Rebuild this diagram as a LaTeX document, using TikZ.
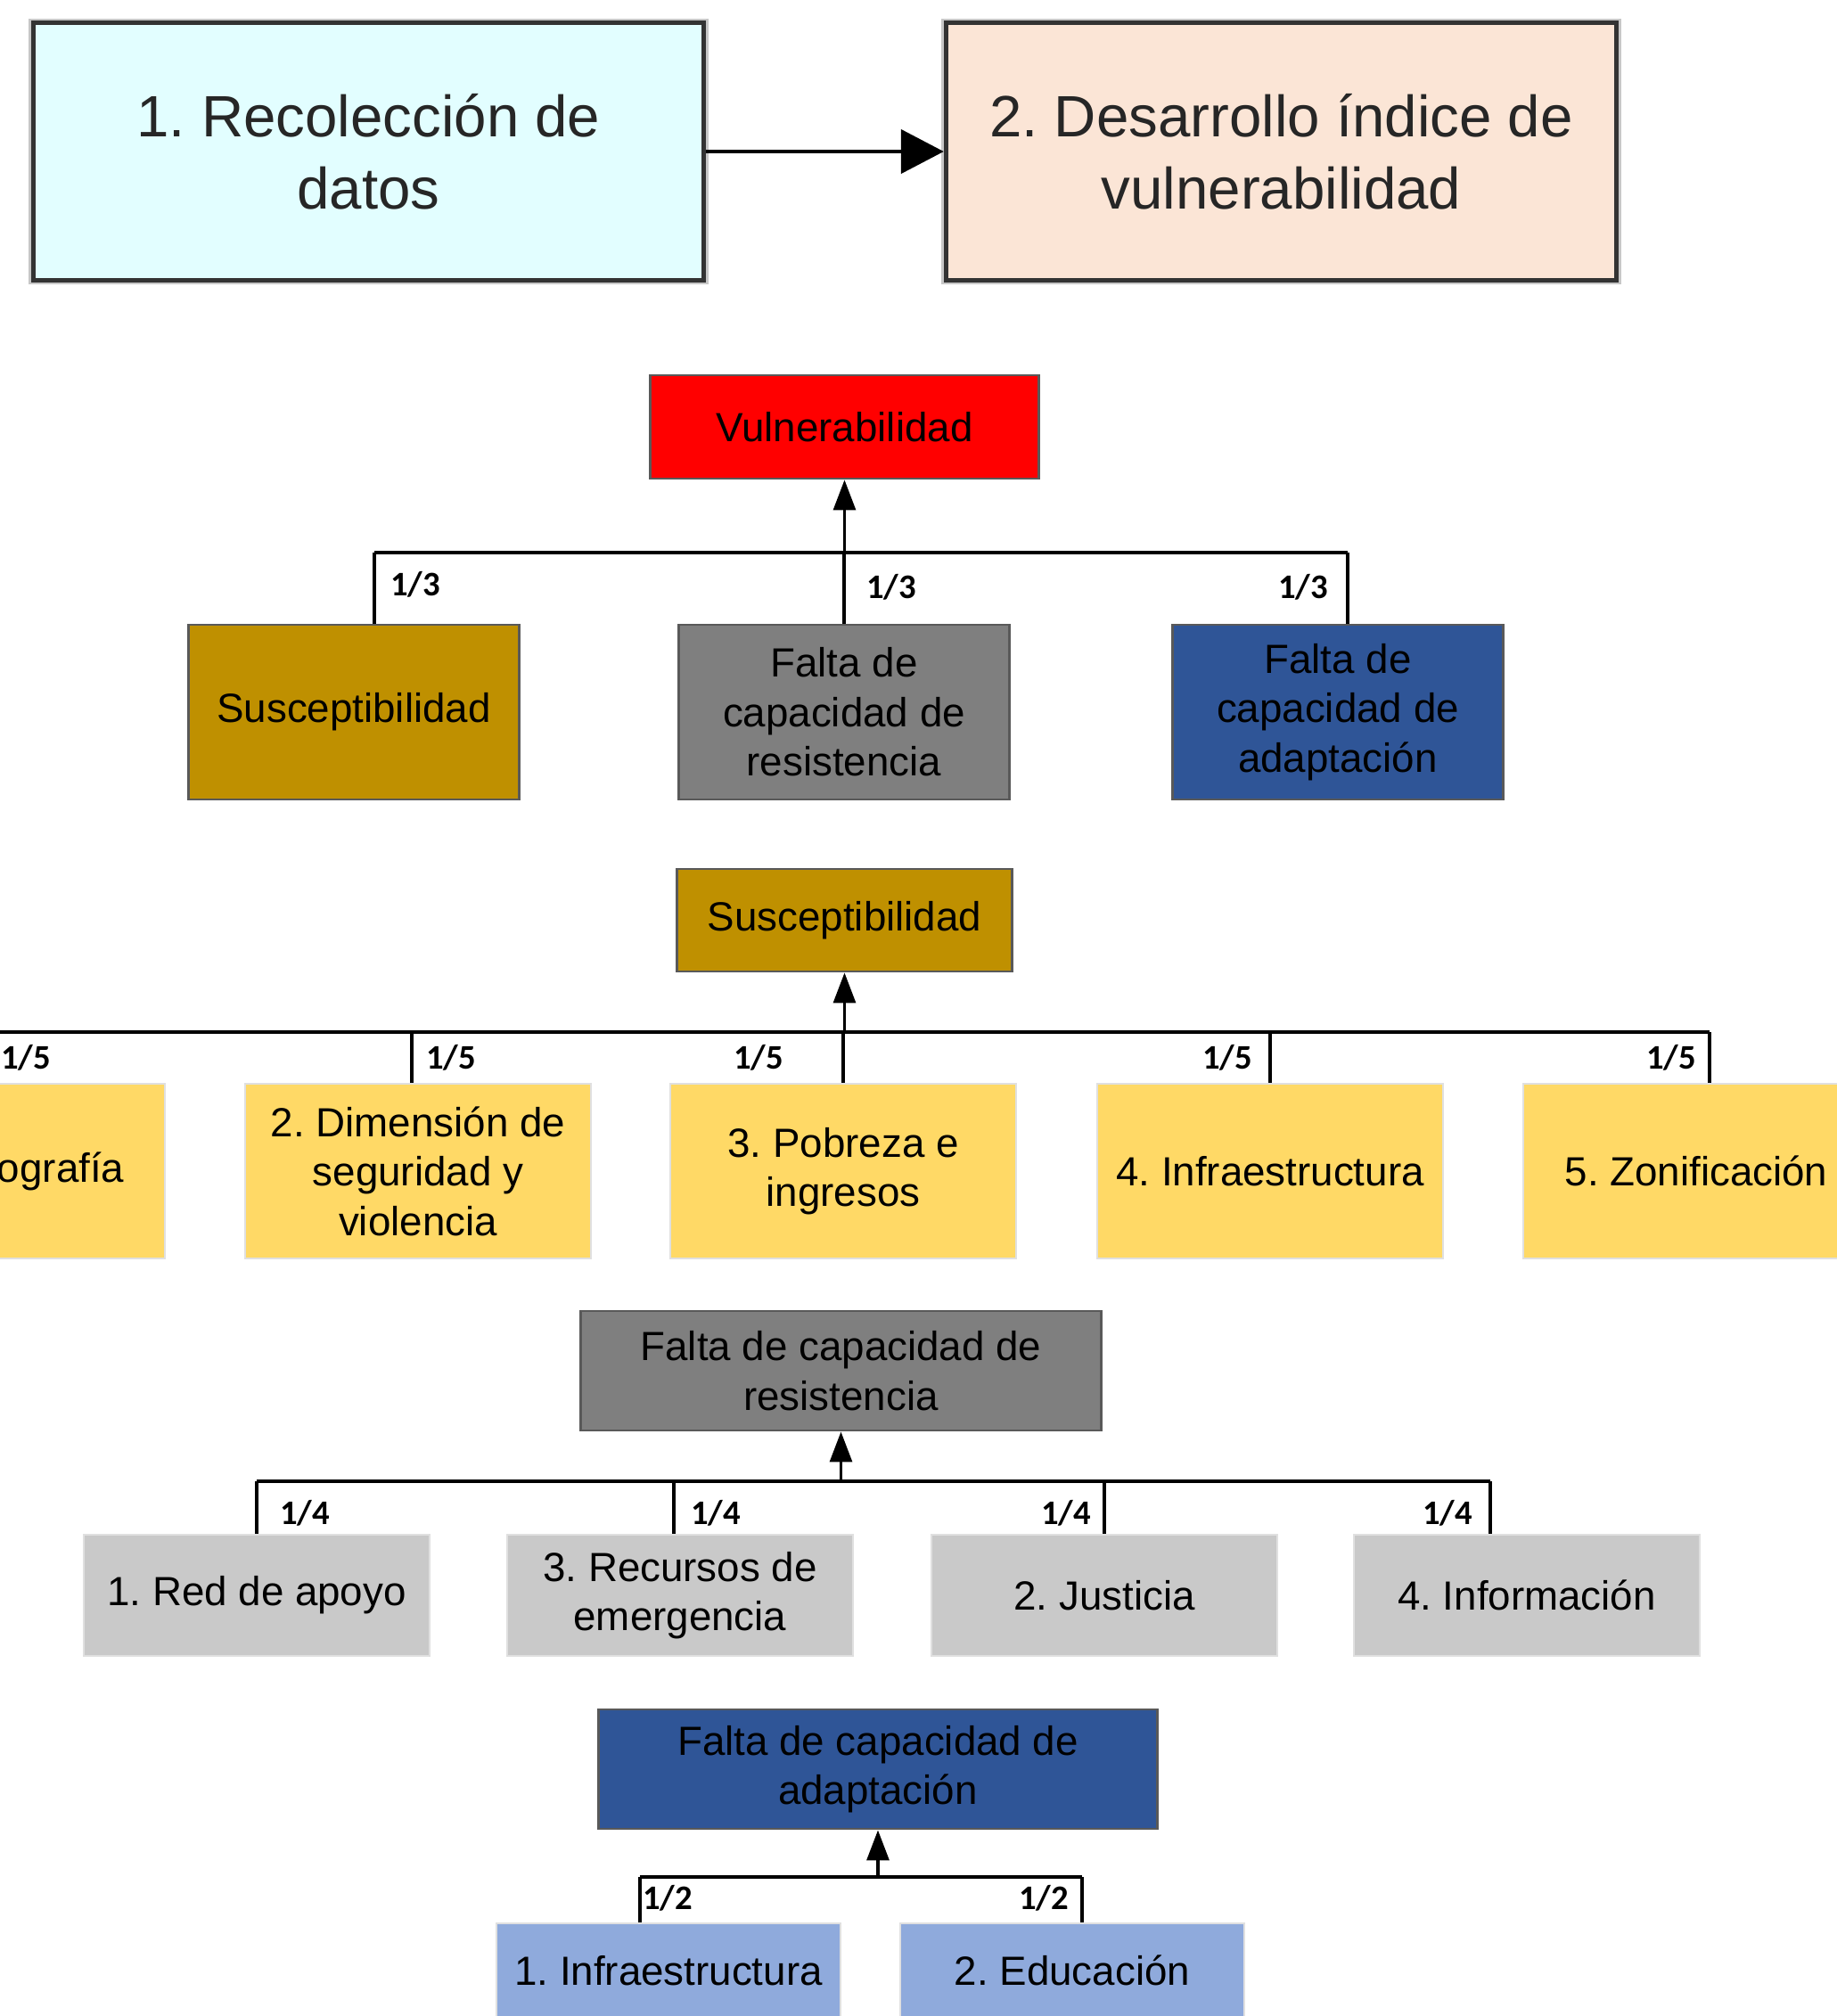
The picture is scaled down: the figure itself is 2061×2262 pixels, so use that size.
\documentclass[tikz,border=0pt]{standalone}
\usepackage{fontspec}
\setmainfont{Liberation Sans}
\newfontfamily\wfont{Carlito}
\usepackage{tikz}
\usetikzlibrary{positioning}
\usetikzlibrary{arrows.meta}
\definecolor{datacyan}{HTML}{E2FEFF}
\definecolor{indexpeach}{HTML}{FBE5D6}
\definecolor{vulred}{HTML}{FF0000}
\definecolor{susgold}{HTML}{BF9000}
\definecolor{resgrey}{HTML}{7F7F7F}
\definecolor{adablue}{HTML}{2F5597}
\definecolor{susyellow}{HTML}{FFD966}
\definecolor{reslight}{HTML}{C9C9C9}
\definecolor{adalight}{HTML}{8FAADC}
\frenchspacing

\begin{document}
\begin{tikzpicture} [
                x=0.01cm, y=-0.01cm,
                stagebox/.style = {draw=black!80, line width=1.4pt, preaction={draw=black!22, line width=3pt}, align=center, font=\fontsize{18.6}{23}\selectfont, text=black!85, minimum height=2.88cm, minimum width=7.52cm},
                topbox/.style = {draw=black!65, line width=0.8pt, align=center, font=\fontsize{13}{15.8}\selectfont, inner sep=2pt},
                subbox/.style = {draw=black!12, line width=0.6pt, align=center, font=\fontsize{13}{15.8}\selectfont, inner sep=2pt},
                weight/.style = {font=\wfont\bfseries\fontsize{11}{12}\selectfont, inner sep=0pt},
                link/.style = {line width=0.9pt},
                bar/.style = {line width=1.3pt},
                up/.style = {line width=0.9pt, -{Triangle[length=0.34cm,width=0.25cm]}}
            ]
            \useasboundingbox (0,0) rectangle (2061,2262);
            \node (rec) at (413.5,170) [stagebox, fill=datacyan] {1. Recolección de\\datos};
            \node (des) at (1437.5,170) [stagebox, fill=indexpeach] {2. Desarrollo índice de\\vulnerabilidad};
            \draw [line width=1.3pt, -{Triangle[length=0.48cm,width=0.49cm]}] (rec) -- (des);

            \node (vul) at (947.5,479) [topbox, fill=vulred, minimum width=4.35cm, minimum height=1.16cm] {Vulnerabilidad};
            \node (sus) at (397,799) [topbox, fill=susgold, minimum width=3.7cm, minimum height=1.96cm] {Susceptibilidad};
            \node (res) at (947,799) [topbox, fill=resgrey, minimum width=3.7cm, minimum height=1.96cm] {Falta de\\capacidad de\\resistencia};
            \node (ada) at (1501,799) [topbox, fill=adablue, minimum width=3.7cm, minimum height=1.96cm] {Falta de\\capacidad de\\adaptación};
            \coordinate (bar1) at (0,620);
            \draw [bar] ([xshift=0.23cm]sus.north |- bar1) -- ([xshift=0.11cm]ada.north |- bar1);
            \draw [link] ([xshift=0.23cm]sus.north) -- ([xshift=0.23cm]sus.north |- bar1);
            \draw [link] ([xshift=0.11cm]ada.north) -- ([xshift=0.11cm]ada.north |- bar1);
            \draw [link] (res.north) -- (res.north |- bar1);
            \draw [up] (vul.south |- bar1) -- (vul.south);
            \node (w21) at (466,656) [weight] {1/3};
            \node (w22) at (1000,659) [weight] {1/3};
            \node (w23) at (1462,659) [weight] {1/3};

            \node (sus2) at (947.5,1032.5) [topbox, fill=susgold, minimum width=3.75cm, minimum height=1.15cm] {Susceptibilidad};
            \node (d1) at (-9,1314) [subbox, fill=susyellow, minimum width=3.88cm, minimum height=1.96cm] {};
            \node (d1t) at (140,1314) [anchor=east, inner sep=0pt, font=\fontsize{13}{15.8}\selectfont] {ografía};
            \node (d2) at (469,1314) [subbox, fill=susyellow, minimum width=3.88cm, minimum height=1.96cm] {2. Dimensión de\\seguridad y\\violencia};
            \node (d3) at (946,1314) [subbox, fill=susyellow, minimum width=3.88cm, minimum height=1.96cm] {3. Pobreza e\\ingresos};
            \node (d4) at (1425,1314) [subbox, fill=susyellow, minimum width=3.88cm, minimum height=1.96cm] {4. Infraestructura};
            \node (d5) at (1903,1314) [subbox, fill=susyellow, minimum width=3.88cm, minimum height=1.96cm] {5. Zonificación};
            \coordinate (bar2) at (0,1158);
            \draw [bar] (d1.north |- bar2) -- ([xshift=0.15cm]d5.north |- bar2);
            \draw [link] (d1.north) -- (d1.north |- bar2);
            \draw [link] ([xshift=-0.07cm]d2.north) -- ([xshift=-0.07cm]d2.north |- bar2);
            \draw [link] (d4.north) -- (d4.north |- bar2);
            \draw [link] ([xshift=0.15cm]d5.north) -- ([xshift=0.15cm]d5.north |- bar2);
            \draw [link] (d3.north) -- (d3.north |- bar2);
            \draw [up] (sus2.south |- bar2) -- (sus2.south);
            \node (w31) at (29,1187) [weight] {1/5};
            \node (w32) at (506,1187) [weight] {1/5};
            \node (w33) at (851,1187) [weight] {1/5};
            \node (w34) at (1377,1187) [weight] {1/5};
            \node (w35) at (1875,1187) [weight] {1/5};

            \node (res2) at (943.5,1538) [topbox, fill=resgrey, minimum width=5.83cm, minimum height=1.34cm] {Falta de capacidad de\\resistencia};
            \node (r1) at (288,1790) [subbox, fill=reslight, minimum width=3.87cm, minimum height=1.36cm] {1. Red de apoyo};
            \node (r3) at (763,1790) [subbox, fill=reslight, minimum width=3.87cm, minimum height=1.36cm] {3. Recursos de\\emergencia};
            \node (r2) at (1239,1790) [subbox, fill=reslight, minimum width=3.87cm, minimum height=1.36cm] {2. Justicia};
            \node (r4) at (1713,1790) [subbox, fill=reslight, minimum width=3.87cm, minimum height=1.36cm] {4. Información};
            \coordinate (bar3) at (0,1662);
            \draw [bar] (r1.north |- bar3) -- ([xshift=-0.41cm]r4.north |- bar3);
            \draw [link] (r1.north) -- (r1.north |- bar3);
            \draw [link] ([xshift=-0.07cm]r3.north) -- ([xshift=-0.07cm]r3.north |- bar3);
            \draw [link] (r2.north) -- (r2.north |- bar3);
            \draw [link] ([xshift=-0.41cm]r4.north) -- ([xshift=-0.41cm]r4.north |- bar3);
            \draw [up] (res2.south |- bar3) -- (res2.south);
            \node (w41) at (342,1698) [weight] {1/4};
            \node (w42) at (803,1698) [weight] {1/4};
            \node (w43) at (1196,1698) [weight] {1/4};
            \node (w44) at (1624,1698) [weight] {1/4};

            \node (ada2) at (985,1985) [topbox, fill=adablue, minimum width=6.26cm, minimum height=1.34cm] {Falta de capacidad de\\adaptación};
            \node (a1) at (750,2211) [subbox, fill=adalight, minimum width=3.86cm, minimum height=1.06cm] {1. Infraestructura};
            \node (a2) at (1203,2211) [subbox, fill=adalight, minimum width=3.86cm, minimum height=1.06cm] {2. Educación};
            \coordinate (bar4) at (0,2106);
            \draw [bar] ([xshift=-0.32cm]a1.north |- bar4) -- ([xshift=0.11cm]a2.north |- bar4);
            \draw [link] ([xshift=-0.32cm]a1.north) -- ([xshift=-0.32cm]a1.north |- bar4);
            \draw [link] ([xshift=0.11cm]a2.north) -- ([xshift=0.11cm]a2.north |- bar4);
            \draw [up] (ada2.south |- bar4) -- (ada2.south);
            \node (w51) at (749,2130) [weight] {1/2};
            \node (w52) at (1171,2130) [weight] {1/2};
        \end{tikzpicture}
\end{document}
